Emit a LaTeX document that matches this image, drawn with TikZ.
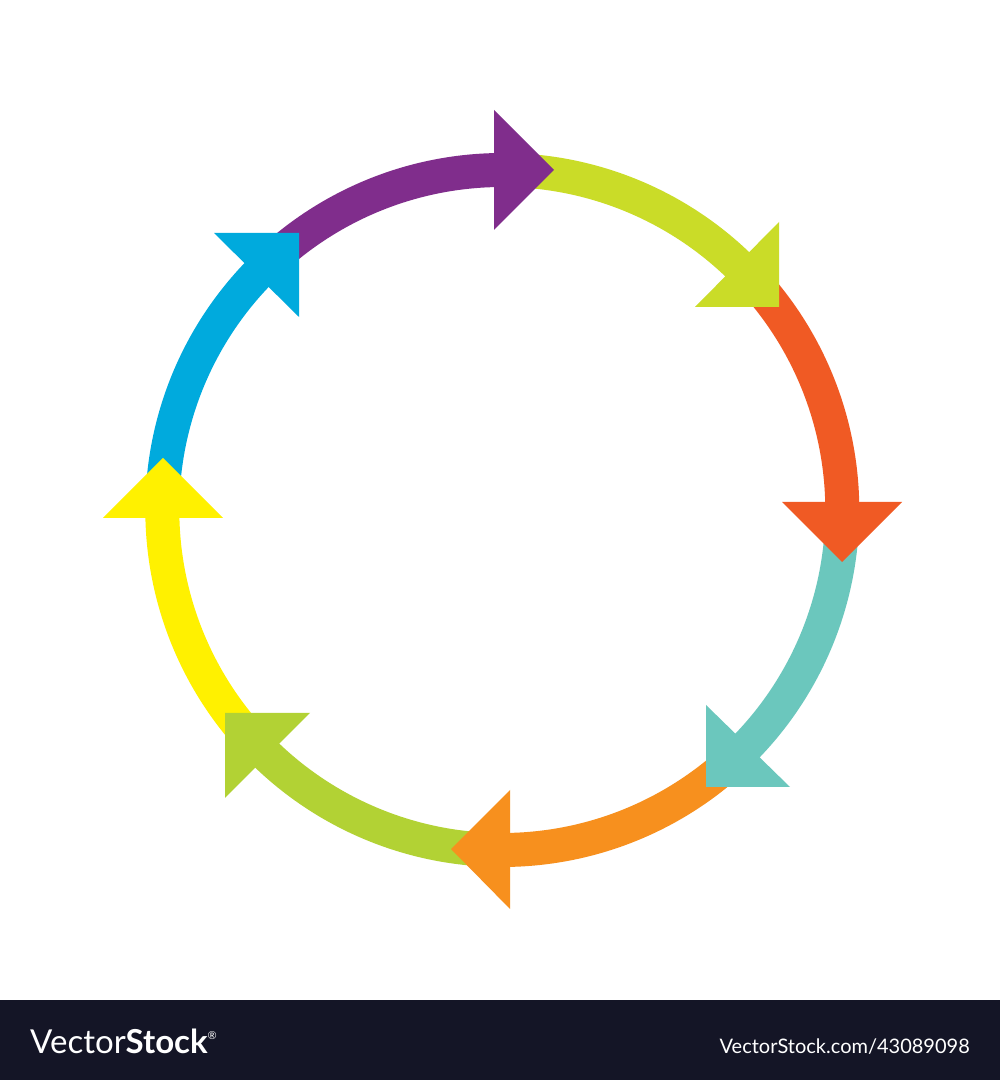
\documentclass[tikz,border=0pt]{standalone}
\usepackage{fontspec}
\setmainfont{Lato}
\begin{document}
\begin{tikzpicture}[x=1pt,y=1pt,
  ring/.style={line width=34pt},
  banner/.style={text=white, inner sep=0pt}]
\definecolor{cpurple}{RGB}{128,45,140}
\definecolor{clime}{RGB}{202,220,40}
\definecolor{cred}{RGB}{240,90,36}
\definecolor{cteal}{RGB}{107,199,189}
\definecolor{corange}{RGB}{247,144,30}
\definecolor{cgreen}{RGB}{178,210,52}
\definecolor{cyellow}{RGB}{255,241,0}
\definecolor{cblue}{RGB}{0,170,221}
\definecolor{cbanner}{RGB}{20,21,38}
\useasboundingbox (0,0) rectangle (1000,1080);
\fill[white] (0,0) rectangle (1000,1080);
\coordinate (C) at (502.3,570);
% arc bodies
\foreach \k/\col in {0/cpurple,1/clime,2/cred,3/cteal,4/corange,5/cgreen,6/cyellow,7/cblue}{
  \pgfmathsetmacro\bs{91.4-45*\k+45-1.5}
  \pgfmathsetmacro\be{91.4-45*\k-1}
  \draw[ring, \col] (C) ++(\bs:340) arc[start angle=\bs, end angle=\be, radius=340];
}
% arrow heads
\fill[cpurple] (494,970) -- (494,850) -- (554,910) -- cycle;
\fill[clime] (779,858) -- (695,773) -- (779,773) -- cycle;
\fill[cred] (782,578) -- (902,578) -- (842,518) -- cycle;
\fill[cteal] (706,375) -- (790,293) -- (706,293) -- cycle;
\fill[corange] (510,290) -- (510,171) -- (451,231) -- cycle;
\fill[cgreen] (310,367) -- (225,282) -- (225,367) -- cycle;
\fill[cyellow] (103,562) -- (223,562) -- (163,622) -- cycle;
\fill[cblue] (214,847) -- (299,763) -- (299,847) -- cycle;
% banner
\fill[cbanner] (0,0) rectangle (1000,80);
\node[banner, anchor=base west] (logo) at (30,27) {\fontsize{33}{38}\selectfont Vector\textbf{Stock}\raisebox{14pt}{\fontsize{11}{13}\selectfont\textregistered}};
\node[banner, anchor=base east] (url) at (970,27) {\fontsize{20}{24}\selectfont VectorStock.com/43089098};
\end{tikzpicture}
\end{document}
